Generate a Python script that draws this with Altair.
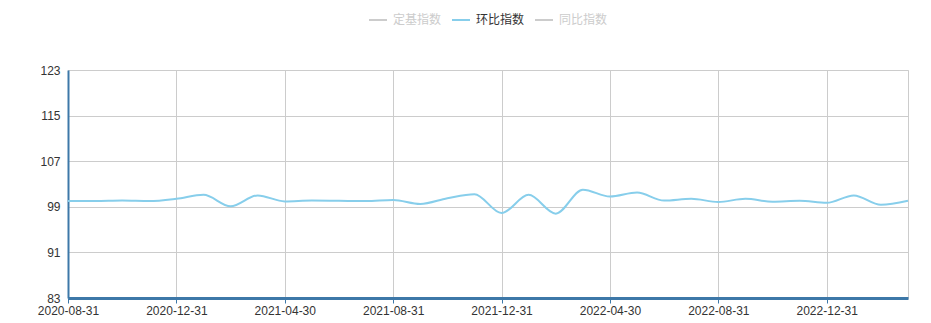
import altair as alt
import pandas as pd

months = [
    "2020-08-31", "2020-09-30", "2020-10-31", "2020-11-30", "2020-12-31",
    "2021-01-31", "2021-02-28", "2021-03-31", "2021-04-30", "2021-05-31",
    "2021-06-30", "2021-07-31", "2021-08-31", "2021-09-30", "2021-10-31",
    "2021-11-30", "2021-12-31", "2022-01-31", "2022-02-28", "2022-03-31",
    "2022-04-30", "2022-05-31", "2022-06-30", "2022-07-31", "2022-08-31",
    "2022-09-30", "2022-10-31", "2022-11-30", "2022-12-31", "2023-01-31",
    "2023-02-28", "2023-03-31",
]
mom_index = [
    100.0, 100.0, 100.1, 100.0, 100.4,
    101.1, 99.1, 101.0, 99.95, 100.1,
    100.05, 100.0, 100.2, 99.5, 100.5,
    101.2, 97.9, 101.1, 97.8, 102.0,
    100.8, 101.5, 100.1, 100.4, 99.85,
    100.4, 99.9, 100.05, 99.7, 101.0,
    99.35, 100.05,
]
series_names = ["定基指数", "环比指数", "同比指数"]
series_active = [False, True, False]
y_ticks = [83, 91, 99, 107, 115, 123]
x_label_values = months[::4]

line_color = "#87CEEB"
inactive_color = "#cccccc"
axis_color = "#3d78a8"

df = pd.DataFrame({"month": months, "value": mom_index})

line = alt.Chart(df).mark_line(
    interpolate="monotone", strokeWidth=2, color=line_color
).encode(
    x=alt.X(
        "month:O",
        sort=months,
        scale=alt.Scale(type="point", padding=0),
        axis=alt.Axis(
            title=None, values=x_label_values, labelAngle=0,
            grid=True, gridColor="#cccccc",
            domainColor=axis_color, domainWidth=3,
            ticks=True, tickColor=axis_color, tickSize=5,
            labelFont="Liberation Sans", labelFontSize=12, labelColor="#333333",
            labelPadding=2,
        ),
    ),
    y=alt.Y(
        "value:Q",
        scale=alt.Scale(domain=[83, 123], nice=False, zero=False),
        axis=alt.Axis(
            title=None, values=y_ticks, grid=True, gridColor="#cccccc",
            domainColor=axis_color, domainWidth=2, ticks=False,
            labelFont="Liberation Sans", labelFontSize=12, labelColor="#333333",
            labelPadding=8,
        ),
    ),
)

# Manual legend (top, centered), laid out relative to the plot origin
legend_layers = []
item_start = 301
item_step = 83
legend_y = -50
for i, (name, active) in enumerate(zip(series_names, series_active)):
    x0 = item_start + i * item_step
    sym_color = line_color if active else inactive_color
    txt_color = "#333333" if active else inactive_color
    legend_layers.append(
        alt.Chart(df.head(1)).mark_rule(strokeWidth=2, color=sym_color).encode(
            x=alt.value(x0), x2=alt.value(x0 + 18), y=alt.value(legend_y)
        )
    )
    legend_layers.append(
        alt.Chart(df.head(1)).mark_text(
            align="left", baseline="middle", font="Noto Sans CJK SC",
            fontSize=12, color=txt_color, text=name,
        ).encode(x=alt.value(x0 + 24), y=alt.value(legend_y))
    )

chart = alt.layer(line, *legend_layers).properties(
    width=840, height=228,
    autosize=alt.AutoSizeParams(type="none"),
    padding={"left": 68, "top": 70, "right": 23, "bottom": 25},
).configure_view(stroke="#cccccc")

chart.save("out.html", embed_options={"renderer": "svg", "actions": False})
